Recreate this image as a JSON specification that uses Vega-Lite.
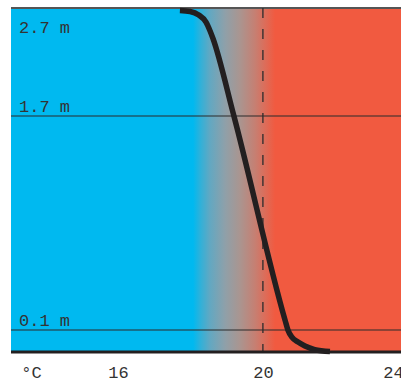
{
  "$schema": "https://vega.github.io/schema/vega-lite/v6.json",
  "width": 390,
  "height": 344,
  "autosize": "none",
  "padding": {"left": 11, "top": 8, "right": 0, "bottom": 37},
  "background": "white",
  "config": {"view": {"stroke": null}},
  "datasets": {
    "panel": [{"t0": 13.05, "t1": 23.81, "h0": 0, "h1": 2.7}],
    "curve": [
      {"temp": 17.71, "height": 2.677},
      {"temp": 17.99, "height": 2.668},
      {"temp": 18.23, "height": 2.635},
      {"temp": 18.43, "height": 2.57},
      {"temp": 18.54, "height": 2.49},
      {"temp": 18.62, "height": 2.42},
      {"temp": 19.2, "height": 1.7},
      {"temp": 20.61, "height": 0.175},
      {"temp": 20.69, "height": 0.1},
      {"temp": 20.8, "height": 0.068},
      {"temp": 20.97, "height": 0.045},
      {"temp": 21.16, "height": 0.027},
      {"temp": 21.43, "height": 0.011},
      {"temp": 21.85, "height": 0.002}
    ],
    "levels": [
      {"height": 2.7, "label": "2.7 m", "kind": "top"},
      {"height": 1.7, "label": "1.7 m", "kind": "mid"},
      {"height": 0.1, "label": "0.1 m", "kind": "mid"},
      {"height": 0, "label": "", "kind": "floor"}
    ],
    "setpoint": [{"temp": 20}]
  },
  "layer": [
    {
      "data": {"name": "panel"},
      "mark": {
        "type": "rect",
        "fill": {
          "gradient": "linear",
          "x1": 0, "x2": 1, "y1": 0, "y2": 0,
          "stops": [
            {"offset": 0, "color": "#00B9F0"},
            {"offset": 0.467, "color": "#00B9F0"},
            {"offset": 0.485, "color": "#2EB1DA"},
            {"offset": 0.51, "color": "#62A8C2"},
            {"offset": 0.549, "color": "#8FA0A9"},
            {"offset": 0.587, "color": "#AA9590"},
            {"offset": 0.626, "color": "#C67F72"},
            {"offset": 0.651, "color": "#DC6D5A"},
            {"offset": 0.677, "color": "#F15A40"},
            {"offset": 1, "color": "#F15A40"}
          ]
        }
      },
      "encoding": {
        "x": {
          "field": "t0", "type": "quantitative",
          "scale": {"domain": [13.05, 23.81], "nice": false, "zero": false},
          "axis": {
            "values": [13.6, 16, 20, 23.59],
            "labelExpr": "datum.value < 14 ? '°C' : datum.value > 23 ? '24' : format(datum.value, 'd')",
            "domain": false, "ticks": false, "grid": false, "title": null,
            "labelFont": "Liberation Mono", "labelFontSize": 17, "labelColor": "#333333",
            "labelPadding": 12, "labelFlush": false, "labelOverlap": false, "labelBound": false
          }
        },
        "x2": {"field": "t1"},
        "y": {
          "field": "h0", "type": "quantitative",
          "scale": {"domain": [0, 0.1, 1.7, 2.7], "range": [344, 322, 108, 0], "nice": false, "zero": false},
          "axis": null
        },
        "y2": {"field": "h1"}
      }
    },
    {
      "data": {"name": "levels"},
      "transform": [{"filter": "datum.kind == 'mid'"}],
      "mark": {"type": "rule", "color": "#2b2b2b", "strokeWidth": 1.2},
      "encoding": {"y": {"field": "height", "type": "quantitative"}}
    },
    {
      "data": {"name": "levels"},
      "transform": [{"filter": "datum.kind == 'top'"}],
      "mark": {"type": "rule", "color": "#555555", "strokeWidth": 2},
      "encoding": {"y": {"field": "height", "type": "quantitative"}}
    },
    {
      "data": {"name": "setpoint"},
      "mark": {"type": "rule", "color": "#2b2b2b", "strokeWidth": 1.3, "strokeDash": [10, 11]},
      "encoding": {"x": {"field": "temp", "type": "quantitative"}}
    },
    {
      "data": {"name": "curve"},
      "mark": {"type": "line", "color": "#231F20", "strokeWidth": 5.5, "interpolate": "monotone", "strokeCap": "butt"},
      "encoding": {
        "x": {"field": "temp", "type": "quantitative"},
        "y": {"field": "height", "type": "quantitative"}
      }
    },
    {
      "data": {"name": "levels"},
      "transform": [{"filter": "datum.kind == 'floor'"}],
      "mark": {"type": "rule", "color": "#231F20", "strokeWidth": 3},
      "encoding": {"y": {"field": "height", "type": "quantitative"}}
    },
    {
      "data": {"name": "levels"},
      "transform": [{"filter": "datum.kind == 'top'"}],
      "mark": {"type": "text", "align": "left", "baseline": "alphabetic", "dy": 24.5, "font": "Liberation Mono", "fontSize": 17, "color": "#333333"},
      "encoding": {
        "x": {"datum": 13.27, "type": "quantitative"},
        "y": {"field": "height", "type": "quantitative"},
        "text": {"field": "label"}
      }
    },
    {
      "data": {"name": "levels"},
      "transform": [{"filter": "datum.kind == 'mid'"}],
      "mark": {"type": "text", "align": "left", "baseline": "alphabetic", "dy": -4, "font": "Liberation Mono", "fontSize": 17, "color": "#333333"},
      "encoding": {
        "x": {"datum": 13.27, "type": "quantitative"},
        "y": {"field": "height", "type": "quantitative"},
        "text": {"field": "label"}
      }
    }
  ]
}
